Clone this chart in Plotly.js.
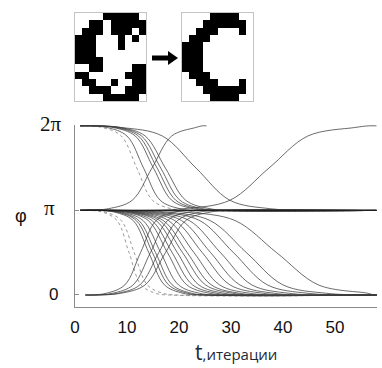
<!DOCTYPE html>
<html>
<head>
<meta charset="utf-8">
<script src="https://cdn.plot.ly/plotly-3.0.1.min.js"></script>
<style>html,body{margin:0;padding:0;background:#fff;}#chart{width:382px;height:368px;}</style>
</head>
<body>
<div id="chart"></div>
<script>
// ---------- data (phase in units of π, time in iterations) ----------
const xTickVals = [0, 10, 20, 30, 40, 50];
const xTickText = ['0', '10', '20', '30', '40', '50'];
const yTickVals = [0, 1, 2];
const yTickText = ['0', 'π', '2π'];

// π -> 0 transitions
const phiPiToZero = [1, 1, 0.98, 0.88, 0.5, 0.12, 0.02, 0, 0];
const tPiToZero = [
  [1, 2.8, 5.3, 8.1, 10.4, 12.7, 15.5, 18.0, 58],
  [1, 3.2, 5.9, 8.9, 11.4, 13.9, 16.9, 19.7, 58],
  [1, 4.3, 7.6, 11.2, 14.2, 17.2, 20.8, 24.1, 58],
  [1, 4.7, 8.1, 11.8, 14.9, 18.0, 21.7, 25.1, 58],
  [1, 4.9, 8.5, 12.3, 15.5, 18.7, 22.5, 26.1, 58],
  [1, 5.3, 9.0, 13.1, 16.5, 19.9, 24.0, 27.7, 58],
  [1, 5.6, 9.7, 14.1, 17.8, 21.5, 25.9, 30.0, 58],
  [1, 5.8, 10.1, 14.8, 18.7, 22.6, 27.3, 31.6, 58],
  [1, 6.2, 10.7, 15.6, 19.7, 23.8, 28.7, 33.2, 58],
  [1, 6.2, 11.0, 16.3, 20.7, 25.1, 30.4, 35.2, 58],
  [1, 6.4, 11.5, 17.0, 21.6, 26.2, 31.7, 36.8, 58],
  [1, 6.7, 12.1, 18.0, 22.9, 27.8, 33.7, 39.1, 58],
  [1, 7.0, 12.8, 19.2, 24.5, 29.8, 36.2, 42.0, 58],
  [1, 7.6, 13.8, 20.5, 26.1, 31.7, 38.4, 44.6, 58],
  [1, 8.2, 14.8, 22.0, 28.0, 34.0, 41.2, 47.8, 58],
  [1, 9.1, 16.2, 24.0, 30.5, 37.0, 44.8, 52.0, 58],
  [1, 9.9, 17.6, 26.0, 33.0, 40.0, 48.4, 56.1, 58],
  [1, 12.4, 21.2, 30.8, 38.8, 46.8, 56.4, 57.5, 58]
];
// 0 -> π transitions
const phiZeroToPi = [0, 0, 0.02, 0.12, 0.5, 0.88, 0.98, 1, 1];
const tZeroToPi = [
  [2, 2.7, 6.0, 9.6, 12.6, 15.6, 19.2, 22.5, 58],
  [2, 3.6, 7.2, 11.2, 14.5, 17.8, 21.8, 25.4, 58],
  [2, 4.2, 8.2, 12.5, 16.1, 19.7, 24.0, 28.0, 58],
  [2, 4.5, 8.8, 13.5, 17.4, 21.3, 26.0, 30.3, 58]
];
// 2π -> π transitions
const phi2PiToPi = [2, 2, 1.98, 1.88, 1.5, 1.12, 1.02, 1, 1];
const t2PiToPi = [
  [1, 2.0, 5.3, 8.9, 11.9, 14.9, 18.5, 21.8, 58],
  [1, 2.6, 6.2, 10.0, 13.2, 16.4, 20.2, 23.8, 58],
  [1, 3.6, 7.4, 11.6, 15.1, 18.6, 22.8, 26.7, 58],
  [1, 3.9, 7.9, 12.2, 15.8, 19.4, 23.7, 27.7, 58],
  [1, 4.3, 8.4, 12.8, 16.5, 20.2, 24.6, 28.7, 58],
  [1, 4.5, 8.8, 13.5, 17.4, 21.3, 26.0, 30.3, 58],
  [1, 1.9, 9.0, 16.8, 23.3, 29.8, 37.6, 44.8, 58]
];
// π -> 2π transitions
const phiPiTo2Pi = [1, 1, 1.02, 1.12, 1.5, 1.88, 1.98, 2, 2];
const tPiTo2Pi = [
  [1, 2.3, 6.4, 11.0, 14.8, 18.6, 23.2, 24.5, 25.3],
  [1, 12.6, 20.8, 29.8, 37.3, 44.8, 53.8, 56.5, 58]
];
// constant π
const tFlat = [1, 58];
const phiFlat = [1, 1];

// pixel patterns (1 = black)
const noisyPattern = [
  '0000111110',
  '0011011111',
  '0111011101',
  '1110001010',
  '1110001000',
  '1110000000',
  '1111000000',
  '0011000011',
  '1100000111',
  '0110010011',
  '0011100111',
  '0000111110'
];
const cleanPattern = [
  '0000111100',
  '0001111110',
  '0011100010',
  '0111000000',
  '1110000000',
  '1110000000',
  '1110000000',
  '1110000000',
  '0111000000',
  '0011100010',
  '0001111110',
  '0000111100'
];

// ---------- build ----------
const lineDark = {color: 'rgba(60,60,60,0.85)', width: 0.9, shape: 'spline', smoothing: 1};
const lineLight = {color: 'rgba(130,130,130,0.9)', width: 0.9, shape: 'spline', smoothing: 1, dash: 'dot'};
const traces = [];
function addGroup(tArr, phi, lightIdx) {
  tArr.forEach((t, i) => {
    traces.push({x: t, y: phi, type: 'scatter', mode: 'lines', hoverinfo: 'skip',
      line: lightIdx.includes(i) ? lineLight : lineDark, xaxis: 'x', yaxis: 'y'});
  });
}
addGroup(tPiToZero, phiPiToZero, [0, 1]);
addGroup(tZeroToPi, phiZeroToPi, []);
addGroup(t2PiToPi, phi2PiToPi, [0]);
addGroup(tPiTo2Pi, phiPiTo2Pi, []);
traces.push({x: tFlat, y: phiFlat, type: 'scatter', mode: 'lines', hoverinfo: 'skip', line: {color: 'rgba(30,30,30,0.95)', width: 1.1}});

const toZ = p => p.map(r => r.split('').map(Number));
const bw = [[0, '#ffffff'], [1, '#000000']];
traces.push({z: toZ(noisyPattern), type: 'heatmap', colorscale: bw, showscale: false, zmin: 0, zmax: 1, xaxis: 'x2', yaxis: 'y2', hoverinfo: 'skip'});
traces.push({z: toZ(cleanPattern), type: 'heatmap', colorscale: bw, showscale: false, zmin: 0, zmax: 1, xaxis: 'x3', yaxis: 'y3', hoverinfo: 'skip'});

const W = 382, H = 368;
const px = v => v / W, py = v => 1 - v / H;
const axisGray = '#8a8a8a';
const imgAxis = (dom, rng, anchor) => ({domain: dom, range: rng, showline: true, mirror: true, linecolor: '#c4c4c4', linewidth: 1,
  ticks: '', showticklabels: false, showgrid: false, zeroline: false, anchor: anchor, fixedrange: true});

const annotations = [];
const yLabelFonts = [
  {family: 'Liberation Sans, Arial, sans-serif', size: 17, color: '#111'},
  {family: 'Liberation Serif, Times New Roman, serif', size: 21, color: '#111'},
  {family: 'Liberation Serif, Times New Roman, serif', size: 21, color: '#111'}
];
const yLabelShift = [-15, -18, -11];
yTickVals.forEach((v, i) => {
  annotations.push({xref: 'paper', yref: 'y', x: px(75), y: v, xanchor: 'right', yanchor: 'middle',
    xshift: yLabelShift[i], yshift: i === 0 ? 0 : 2, text: yTickText[i], showarrow: false, font: yLabelFonts[i]});
});
annotations.push({xref: 'paper', yref: 'paper', x: px(21), y: py(216), xanchor: 'center', yanchor: 'middle',
  text: 'φ', showarrow: false, font: {family: 'Liberation Sans, Arial, sans-serif', size: 18, color: '#111'}});
annotations.push({xref: 'paper', yref: 'paper', x: px(236), y: py(352), xanchor: 'center', yanchor: 'middle',
  text: 't<span style="font-size:15px">,итерации</span>', showarrow: false, borderpad: 0,
  font: {family: 'Open Sans, sans-serif', size: 21, color: '#1e2836'}});

const shapes = [
  {type: 'rect', xref: 'paper', yref: 'paper', x0: px(152), x1: px(170), y0: py(55.5), y1: py(60.5), fillcolor: '#000', line: {width: 0}},
  {type: 'path', xref: 'paper', yref: 'paper',
    path: `M ${px(168)} ${py(51)} L ${px(178)} ${py(58)} L ${px(168)} ${py(65)} Z`, fillcolor: '#000', line: {width: 0}}
];

const layout = {
  width: W, height: H, margin: {l: 0, r: 0, t: 0, b: 0},
  paper_bgcolor: '#fff', plot_bgcolor: 'rgba(0,0,0,0)', showlegend: false,
  xaxis: {domain: [px(75), px(377)], range: [0, 58.1], showline: true, linecolor: axisGray, linewidth: 1,
    ticks: '', tickvals: xTickVals, ticktext: xTickText, showgrid: false, zeroline: false, anchor: 'y',
    ticklabelstandoff: 5,
    tickfont: {family: 'Liberation Sans, Arial, sans-serif', size: 17, color: '#111'}},
  yaxis: {domain: [1 - 307 / H, 1 - 125 / H], range: [-0.142, 2.01], showline: true, linecolor: axisGray, linewidth: 1,
    ticks: 'inside', ticklen: 4, tickcolor: axisGray, tickvals: yTickVals, showticklabels: false,
    showgrid: false, zeroline: false, anchor: 'x'},
  xaxis2: imgAxis([px(75), px(146)], [-0.5, 9.5], 'y2'),
  yaxis2: imgAxis([py(101), py(13)], [11.5, -0.5], 'x2'),
  xaxis3: imgAxis([px(182), px(253)], [-0.5, 9.5], 'y3'),
  yaxis3: imgAxis([py(101), py(13)], [11.5, -0.5], 'x3'),
  annotations: annotations, shapes: shapes
};

Plotly.newPlot('chart', traces, layout, {staticPlot: true, displayModeBar: false});
</script>
</body>
</html>
